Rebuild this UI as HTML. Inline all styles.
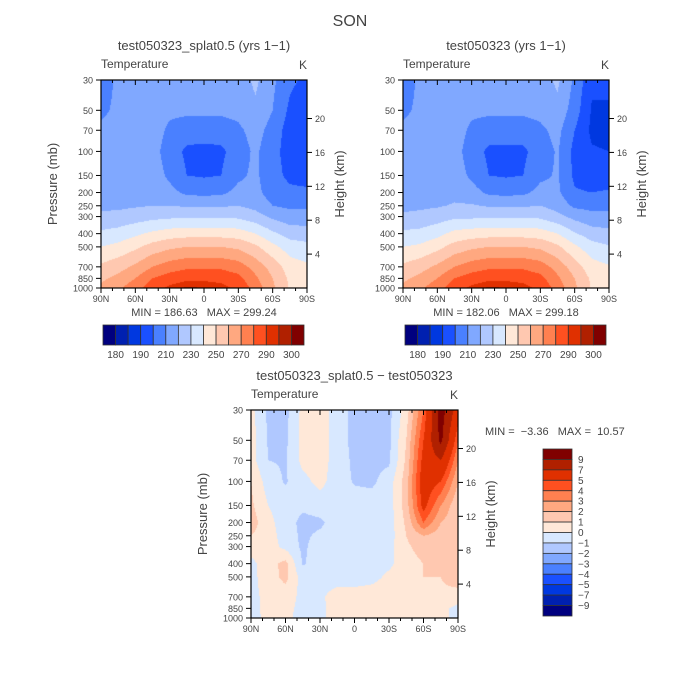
<!DOCTYPE html>
<html><head><meta charset="utf-8">
<style>
body{margin:0;background:#fff;}
svg{display:block;font-family:"Liberation Sans",sans-serif;}
text{white-space:pre;}
</style></head>
<body>
<svg id="root" width="700" height="700" viewBox="0 0 700 700" xmlns="http://www.w3.org/2000/svg">
<rect width="700" height="700" fill="#fff"/>
<text x="350" y="26" text-anchor="middle" font-size="16" fill="#444">SON</text>
</svg>
<script>
// ---- data ----
const pressureLevels = [30,50,70,100,150,200,250,300,400,500,700,850,1000];
const latitudes = [90,75,60,45,30,15,0,-15,-30,-45,-60,-75,-90];
const tempModelA = [
[205,212,215,215,215,215,215,215,215,222,212,202,198],
[208,212,215,215,212,212,212,212,213,218,210,198,193],
[212,214,215,215,208,205,205,205,208,214,206,195,190],
[215,215,215,214,205,198,197,198,205,212,203,196,192],
[215,215,215,215,208,200,199,200,208,212,203,198,196],
[216,216,216,216,213,208,207,208,213,213,205,202,202],
[218,218,219,220,220,219,219,219,220,217,210,208,208],
[222,223,225,227,228,229,229,229,228,224,218,214,214],
[232,234,238,242,245,246,246,246,245,240,232,226,225],
[240,243,248,254,258,260,260,260,258,252,243,235,233],
[252,256,262,270,275,278,278,278,275,266,256,245,242],
[258,263,270,280,285,288,288,287,283,272,260,248,245],
[262,268,276,286,292,296,295,293,288,276,262,249,248]];
const tempModelB = [
[205,212,215,215,215,215,215,215,215,222,208,192,192],
[208,212,215,215,212,212,212,212,213,217,205,189,189],
[212,214,215,215,208,205,205,205,208,213,200,188,187],
[214,215,216,214,205,198,198,198,205,211,197,191,190],
[214,215,216,215,208,200,199,200,208,211,198,195,195],
[215,216,216,217,214,208,207,208,213,212,201,200,201],
[217,218,219,221,221,219,219,219,220,216,208,207,207],
[222,223,225,228,228,229,229,229,228,223,217,213,213],
[232,233,237,243,245,246,246,246,245,240,231,225,223],
[240,242,247,254,258,260,260,260,258,252,242,234,231],
[252,256,262,270,275,278,278,278,275,266,255,244,241],
[258,263,270,280,285,288,288,287,283,272,260,248,245],
[262,268,276,286,292,296,295,293,288,276,262,249,248]];
const tempDiff = [
[0.3,-1.2,-1.3,0.3,0.5,-0.5,-1.3,-1.4,-1.3,0.5,4,10,6],
[0.5,-1.1,-1.2,0.3,0.5,-0.5,-1.3,-1.4,-1.2,1,5,9.5,4],
[0.4,-1,-1.1,0.3,0.5,-0.5,-1.2,-1.3,-1.2,1.2,5.5,7,3],
[1,-0.5,-1.1,-0.3,0.3,-0.5,-1.1,-1.2,-0.5,1.5,6,5,2],
[1.2,0,-0.5,-0.8,-0.5,-0.5,-0.5,-0.5,-0.5,1.5,5.5,3,1.2],
[1.5,0.3,-0.5,-1.3,-1.2,-0.5,-0.5,-0.5,-0.5,1.2,4,2,1.2],
[1,0.5,-0.5,-1.2,-0.8,-0.5,-0.5,-0.5,-0.5,1,2,1.5,1],
[0.5,0.5,-0.3,-1.2,-0.5,-0.5,-0.5,-0.5,-0.3,0.8,1.5,1.2,1],
[-0.3,0.6,1.3,-1.1,-0.5,-0.5,-0.5,-0.5,-0.2,0.5,1,1.2,1.6],
[-0.3,0.5,1.3,-0.5,-0.5,-0.5,-0.5,-0.3,0.2,0.5,1,1,1.6],
[-0.3,0.3,0.5,-0.3,-0.2,0.5,0.5,0.5,0.5,0.6,0.6,0.8,0.5],
[-0.3,0.3,0.3,-0.3,-0.3,0.5,0.5,0.5,0.5,0.5,0.5,0.3,-0.3],
[-0.3,0.2,0.2,-0.3,-0.3,0.5,0.5,0.5,0.5,0.5,0.5,0.3,-0.3]];
const tempLevels = [180,185,190,200,210,220,230,240,250,260,270,280,290,295,300];
const tempLabels = ["180","190","210","230","250","270","290","300"];
const diffLevels = [-9,-7,-5,-4,-3,-2,-1,0,1,2,3,4,5,7,9];
const diffLabels = ["9","7","5","4","3","2","1","0","\u22121","\u22122","\u22123","\u22124","\u22125","\u22127","\u22129"];
const pressureTicks = [30,50,70,100,150,200,250,300,400,500,700,850,1000];
const heightTicks = [4,8,12,16,20];
const latTicks = [90,60,30,0,-30,-60,-90];
const latTickLabels = ["90N","60N","30N","0","30S","60S","90S"];
const palette = ["#00007f","#0020b0","#0038e0","#1a50ff","#4a80ff","#80a8ff","#b0c8ff","#d8e8ff","#ffe8d8","#ffc8b0","#ffa880","#ff8050","#ff5020","#e03000","#b02000","#800000"];

const NS="http://www.w3.org/2000/svg";
const root=document.getElementById('root');
function mk(tag,attrs,parent){const e=document.createElementNS(NS,tag);for(const k in attrs)e.setAttribute(k,attrs[k]);(parent||root).appendChild(e);return e;}
function txt(x,y,s,size,anchor,parent){const t=mk('text',{x:x,y:y,'font-size':size,'text-anchor':anchor||'start',fill:'#444'},parent);t.textContent=s;return t;}

function binOf(v,levels){let i=0;while(i<levels.length&&v>=levels[i])i++;return i;}

function drawPanel(ox,oy,w,h,grid,levels,name,title,showPressureTitle){
  const g=mk('g',{});
  
  
  const xS=lat=>ox+(90-lat)/180*w;
  const lp0=Math.log(30),lp1=Math.log(1000);
  const yS=p=>oy+(Math.log(p)-lp0)/(lp1-lp0)*h;
  const fo=mk('foreignObject',{x:ox,y:oy,width:w,height:h},g);
  
  
  const cv=document.createElement('canvas');cv.width=w;cv.height=h;cv.style.display='block';
  fo.appendChild(cv);
  const ctx=cv.getContext('2d');
  const nl=latitudes.length,np=pressureLevels.length;
  const rowY=pressureLevels.map(p=>yS(p)-oy), colX=latitudes.map(l=>xS(l)-ox);
  for(let py=0;py<h;py++){
    const yy=py+0.5;let r=0;while(r<np-2&&yy>rowY[r+1])r++;
    const ty=Math.min(1,Math.max(0,(yy-rowY[r])/(rowY[r+1]-rowY[r])));
    let prev=-1,start=0;
    for(let px=0;px<=w;px++){
      let b=-2;
      if(px<w){const xx=px+0.5;let c=0;while(c<nl-2&&xx>colX[c+1])c++;
        const tx=Math.min(1,Math.max(0,(xx-colX[c])/(colX[c+1]-colX[c])));
        const v=(grid[r][c]*(1-tx)+grid[r][c+1]*tx)*(1-ty)+(grid[r+1][c]*(1-tx)+grid[r+1][c+1]*tx)*ty;
        b=binOf(v,levels);}
      if(b!==prev){if(prev>=0){ctx.fillStyle=palette[prev];ctx.fillRect(start,py,px-start,1);}prev=b;start=px;}
    }
  }
  mk('rect',{x:ox,y:oy,width:w,height:h,fill:'none',stroke:'#000','stroke-width':1.2},g);
  pressureTicks.forEach(p=>{const y=yS(p);mk('line',{x1:ox-5,x2:ox,y1:y,y2:y,stroke:'#000'},g);
    const t=txt(ox-8,y+3.5,String(p),9,'end',g);});
  heightTicks.forEach(k=>{const p=1000*Math.exp(-k/7);const y=yS(p);mk('line',{x1:ox+w,x2:ox+w+5,y1:y,y2:y,stroke:'#000'},g);
    const t=txt(ox+w+8,y+3.5,String(k),9,'start',g);});
  for(let l=90;l>=-90;l-=10){const x=xS(l);const major=(l%30===0);
    mk('line',{x1:x,x2:x,y1:oy+h,y2:oy+h+(major?5:3),stroke:'#000'},g);
    mk('line',{x1:x,x2:x,y1:oy,y2:oy+(major?5:3),stroke:'#000'},g);}
  latTicks.forEach((l,i)=>{const t=txt(xS(l),oy+h+14,latTickLabels[i],9,'middle',g);});
  if(showPressureTitle){
    const pt=txt(0,0,'Pressure (mb)',13,'middle',g);pt.setAttribute('transform',`translate(${ox-44},${oy+h/2}) rotate(-90)`);
    
  }
  const ht=txt(0,0,'Height (km)',13,'middle',g);ht.setAttribute('transform',`translate(${ox+w+37},${oy+h/2}) rotate(-90)`);
  
  const tt=txt(ox+w/2,oy-30,title,13,'middle',g);
  const vt=txt(ox,oy-12,'Temperature',12,'start',g);
  const ut=txt(ox+w,oy-11,'K',12,'end',g);
  return g;
}
function hColorbar(x,y,w,h,name){
  const g=mk('g',{});
  const bw=w/palette.length;
  palette.forEach((c,i)=>{const r=mk('rect',{x:x+i*bw,y:y,width:bw,height:h,fill:c,stroke:'#333','stroke-width':0.8},g);
    });
  tempLabels.forEach((s,i)=>{const t=txt(x+(2*i+1)*bw,y+h+13,s,10,'middle',g);});
}
drawPanel(101,80,206,208,tempModelA,tempLevels,'panel-model-a','test050323_splat0.5 (yrs 1\u22121)',true);
drawPanel(403,80,206,208,tempModelB,tempLevels,'panel-model-b','test050323 (yrs 1\u22121)',false);
drawPanel(251,410,207,208,tempDiff,diffLevels,'panel-difference','test050323_splat0.5 \u2212 test050323',true);
let m=txt(204,316,'MIN = 186.63   MAX = 299.24',11,'middle');
m=txt(506,316,'MIN = 182.06   MAX = 299.18',11,'middle');
m=txt(485,435,'MIN =  \u22123.36   MAX =  10.57',11,'start');
hColorbar(103,325,201,20,'colorbar-a');
hColorbar(405,325,201,20,'colorbar-b');
(function(){const x=543,y=449,w=29,h=167;const g=mk('g',{});
  const bh=h/palette.length;
  palette.slice().reverse().forEach((c,i)=>{const r=mk('rect',{x:x,y:y+i*bh,width:w,height:bh,fill:c,stroke:'#333','stroke-width':0.8},g);
    });
  diffLabels.forEach((s,i)=>{const t=txt(x+w+6,y+(i+1)*bh+3.5,s,10,'start',g);});
})();
</script>
</body></html>
